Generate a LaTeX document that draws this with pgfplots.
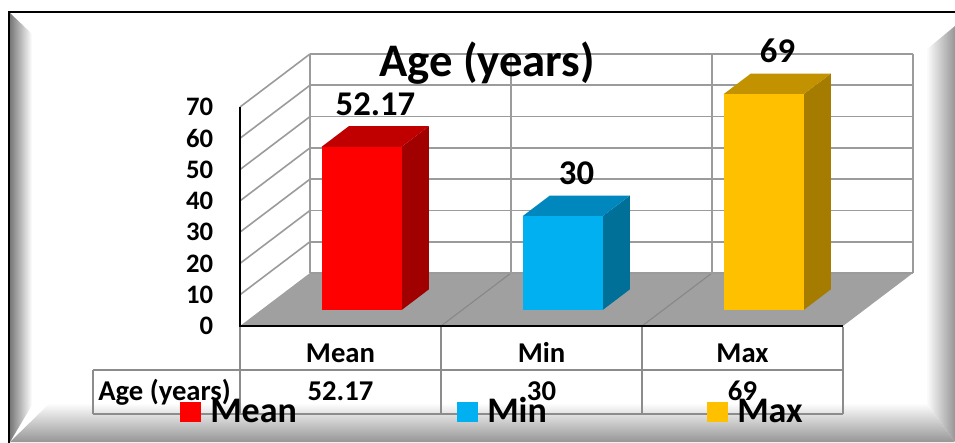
\documentclass[border=0pt]{standalone}
\usepackage{pgfplots}
\pgfplotsset{compat=1.18}
\usepackage{pgfplotstable}
\usepackage{fontspec}
\setmainfont{Carlito}

\definecolor{front0}{RGB}{255,0,0}
\definecolor{top0}{RGB}{192,0,0}
\definecolor{side0}{RGB}{160,0,0}
\definecolor{front1}{RGB}{0,176,240}
\definecolor{top1}{RGB}{0,135,190}
\definecolor{side1}{RGB}{0,112,153}
\definecolor{front2}{RGB}{255,192,0}
\definecolor{top2}{RGB}{194,146,0}
\definecolor{side2}{RGB}{166,124,0}
\definecolor{gridc}{RGB}{155,155,155}
\definecolor{floorc}{RGB}{160,160,160}
\definecolor{floorl}{RGB}{135,135,135}
\definecolor{tabc}{RGB}{140,140,140}
\definecolor{bevdark}{RGB}{120,120,120}
\definecolor{bevmid}{RGB}{150,150,150}

\pgfplotstableread{
idx value
0 52.17
1 30
2 69
}\agedata

% 3D bar: #1 index, #2 value
\newcommand\threedbar[2]{%
  \pgfmathsetmacro\xa{#1-0.199+0.1052}%
  \pgfmathsetmacro\xb{#1+0.199+0.1052}%
  \pgfmathsetmacro\xc{#1+0.199+0.2403}%
  \pgfmathsetmacro\xd{#1-0.199+0.2403}%
  \pgfmathsetmacro\yfb{5.116}%
  \pgfmathsetmacro\yft{#2+5.116}%
  \pgfmathsetmacro\ybb{11.69}%
  \pgfmathsetmacro\ybt{#2+11.69}%
  \edef\tmp{%
    \noexpand\addplot[draw=none, fill=side#1, forget plot] coordinates {(\xb,\yfb) (\xc,\ybb) (\xc,\ybt) (\xb,\yft)} -- cycle;
    \noexpand\addplot[draw=none, fill=top#1, forget plot] coordinates {(\xa,\yft) (\xb,\yft) (\xc,\ybt) (\xd,\ybt)} -- cycle;
    \noexpand\addplot[draw=none, fill=front#1, forget plot] coordinates {(\xa,\yfb) (\xb,\yfb) (\xb,\yft) (\xa,\yft)} -- cycle;
  }\tmp
}

\begin{document}
\begin{tikzpicture}
\path[use as bounding box] (0,0) rectangle (716.25pt,-331.5pt);

% ---------- background, bevel, frame (pixel coordinates)
\begin{scope}[x=0.75pt,y=-0.75pt]
  \fill[white] (0,0) rectangle (955,442);
  \shade[left color=bevdark, right color=white] (10,13) -- (32,34) -- (32,405) -- (10,442) -- cycle;
  \shade[top color=white, bottom color=bevmid] (10,442) -- (50,403) -- (926,403) -- (955,442) -- cycle;
  \shade[left color=white, right color=bevmid] (926,50) -- (955,26) -- (955,442) -- (926,403) -- cycle;
  \draw[black, line width=1.9pt] (9,445) -- (9,12) -- (958,12);
\end{scope}

\begin{axis}[
  at={(180pt,-244.5pt)}, anchor=south west,
  scale only axis, width=452.25pt, height=164.25pt,
  xmin=-0.5, xmax=2.5, ymin=0, ymax=70,
  clip=false,
  axis line style={draw=none}, tick style={draw=none}, major tick length=0pt,
  ytick={0,10,...,70},
  xtick={0,1,2}, xticklabels={Mean,Min,Max},
  /pgf/number format/assume math mode=true,
  yticklabel style={font=\fontsize{20pt}{24pt}\selectfont\bfseries, anchor=east, inner sep=0pt, xshift=-20pt},
  xticklabel style={font=\fontsize{21.5pt}{25pt}\selectfont\bfseries, anchor=base, inner sep=0pt, yshift=-27pt},
]
  % floor
  \fill[floorc] (-0.5,0) -- (2.5,0) -- (2.84826,16.94) -- (-0.15174,16.94) -- cycle;
  \draw[floorl, line width=0.8pt] (0.5,0) -- (0.84826,16.94);
  \draw[floorl, line width=0.8pt] (1.5,0) -- (1.84826,16.94);
  % back wall and side wall gridlines
  \pgfplotsinvokeforeach{10,20,...,70}{
    \draw[gridc, line width=1.2pt] (-0.15174,#1+16.94) -- (2.84826,#1+16.94);
    \draw[gridc, line width=1.2pt] (-0.5,#1) -- (-0.15174,#1+16.94);
  }
  \pgfplotsinvokeforeach{-0.15174,0.84826,1.84826,2.84826}{
    \draw[gridc, line width=1.2pt] (#1,16.94) -- (#1,86.94);
  }
  \draw[gridc, line width=1.2pt] (-0.15174,16.94) -- (2.84826,16.94);
  % front black axis lines
  \draw[black, line width=1.6pt] (-0.5,70) -- (-0.5,0) -- (2.5,0);

  % bars
  \pgfplotsinvokeforeach{0,1,2}{
    \pgfplotstablegetelem{#1}{value}\of\agedata
    \let\val\pgfplotsretval
    \threedbar{#1}{\val}
  }

  % data labels above bars
  \addplot[draw=none, forget plot, nodes near coords, point meta=explicit symbolic,
    nodes near coords style={anchor=base, inner sep=0pt, yshift=15.75pt,
      font=\fontsize{26pt}{30pt}\selectfont\bfseries, text=black}]
    table[x expr=\thisrow{idx}+0.17413, y expr=\thisrow{value}+8.47, meta=value]{\agedata};

  % data table values
  \addplot[draw=none, forget plot, nodes near coords, point meta=explicit symbolic,
    nodes near coords style={anchor=base, inner sep=0pt, yshift=-55.5pt,
      font=\fontsize{21.5pt}{25pt}\selectfont\bfseries, text=black}]
    table[x=idx, y expr=0, meta=value]{\agedata};
\end{axis}

% ---------- table lines, title, legend (pixel coordinates)
\begin{scope}[x=0.75pt,y=-0.75pt]
  \draw[tabc, line width=0.9pt] (93,370) -- (843,370);
  \draw[tabc, line width=0.9pt] (93,414) -- (843,414);
  \draw[tabc, line width=0.9pt] (93,370) -- (93,414);
  \foreach \xx in {240,441,642,843} {
    \draw[tabc, line width=0.9pt] (\xx,327) -- (\xx,414);
  }
  \draw[black, line width=1.6pt] (240,326) -- (843,326);
  \node[anchor=base west, inner sep=0pt, font=\fontsize{21.5pt}{25pt}\selectfont\bfseries] at (98,400) {Age (years)};

  \node[anchor=base, inner sep=0pt, font=\fontsize{35pt}{40pt}\selectfont\bfseries] at (487,77) {Age (years)};

  \fill[front0] (180,402) rectangle (201,422);
  \node[anchor=base west, inner sep=0pt, font=\fontsize{27pt}{31pt}\selectfont\bfseries] at (210,422) {Mean};
  \fill[front1] (457,402) rectangle (478,422);
  \node[anchor=base west, inner sep=0pt, font=\fontsize{27pt}{31pt}\selectfont\bfseries] at (487,422) {Min};
  \fill[front2] (707,402) rectangle (728,422);
  \node[anchor=base west, inner sep=0pt, font=\fontsize{27pt}{31pt}\selectfont\bfseries] at (737,422) {Max};
\end{scope}
\end{tikzpicture}
\end{document}
